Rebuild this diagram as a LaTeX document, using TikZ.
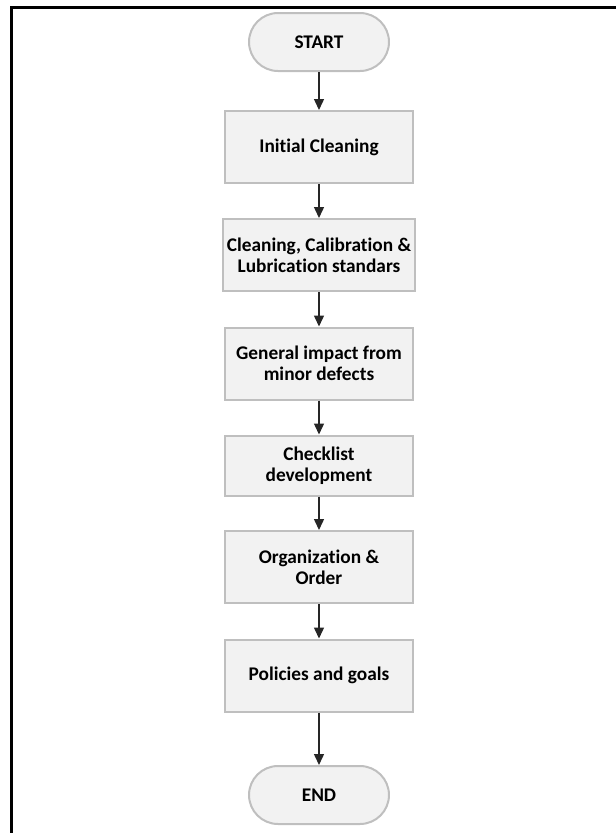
\documentclass[tikz,border=0pt]{standalone}
\usepackage{fontspec}
\setmainfont{Carlito}[Ligatures=NoCommon]
\usepackage{xcolor}
\usepackage{tikz}
\usetikzlibrary{arrows.meta}

\definecolor{boxfill}{HTML}{F2F2F2}
\definecolor{boxline}{HTML}{BFBFBF}
\definecolor{flowline}{HTML}{262626}

\tikzset{
  stepbox/.style={draw=boxline, line width=0.04cm, fill=boxfill,
    minimum width=3.76cm, minimum height=1.44cm, align=center,
    font=\fontsize{11}{11.8}\selectfont\bfseries, inner sep=2pt},
  termbox/.style={stepbox, minimum width=2.8cm, minimum height=1.16cm,
    rounded corners=0.58cm},
  flow/.style={draw=flowline, line width=0.028cm, -{Triangle[length=0.22cm,width=0.2cm]}}
}

\begin{document}
\begin{tikzpicture}[x=0.02cm,y=-0.02cm]
\useasboundingbox (0,0) rectangle (616,833);

% --- FRAME ---
\draw[line width=0.06cm] (11.5,833) -- (11.5,7.5) -- (616,7.5);

% --- TERMINALS ---
\node[termbox] (start) at (319,42) {START};
\node[termbox] (end) at (319,795) {END};

% --- STEPS ---
\node[stepbox] (clean) at (319,147) {Initial Cleaning};
\node[stepbox] (standards) at (319,255) {Cleaning, Calibration \&\\Lubrication standars};
\node[stepbox] (defects) at (319,363.5) {General impact from\\minor defects};
\node[stepbox, minimum height=1.2cm] (checklist) at (319,465.5) {Checklist\\development};
\node[stepbox] (order) at (319,567) {Organization \&\\Order};
\node[stepbox] (goals) at (319,675.5) {Policies and goals};

% --- ARROWS ---
\foreach \a/\b in {start/clean,clean/standards,standards/defects,
                   defects/checklist,checklist/order,order/goals,goals/end} {
  \draw[flow] (\a) -- (\b);
}
\end{tikzpicture}
\end{document}
